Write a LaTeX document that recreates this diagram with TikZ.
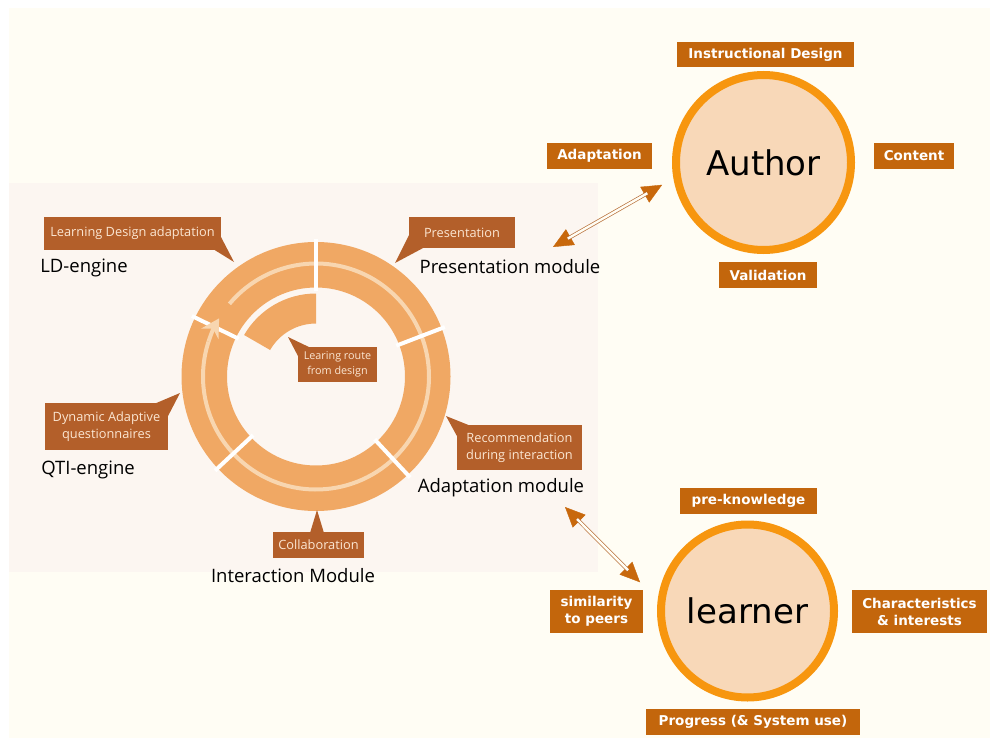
\documentclass[tikz,border=0pt]{standalone}
\usepackage{fontspec}
\setmainfont{DejaVu Sans}
\newfontfamily\handfont{Open Sans}
\usetikzlibrary{arrows.meta,calc}
\definecolor{bgcream}{HTML}{FFFDF4}
\definecolor{panelc}{HTML}{FCF6F1}
\definecolor{ringc}{HTML}{F0A864}
\definecolor{stripec}{HTML}{F8D6B0}
\definecolor{callc}{HTML}{B35F2A}
\definecolor{calltext}{HTML}{FBE6D2}
\definecolor{boxc}{HTML}{C3660C}
\definecolor{personfill}{HTML}{F8D8B8}
\definecolor{persondraw}{HTML}{F7960F}
\definecolor{headc}{HTML}{C8680C}
\definecolor{shaftc}{HTML}{B8703A}
\begin{document}
\begin{tikzpicture}[x=1pt,y=-1pt,
  lblbox/.style={fill=boxc, text=white, font=\bfseries\fontsize{13.5}{17}\selectfont, inner sep=0pt, align=center},
  callbox/.style={fill=callc, text=calltext, font=\handfont\fontsize{12.8}{16.5}\selectfont, inner sep=0pt, align=center},
  modlabel/.style={font=\handfont\fontsize{18.5}{22}\selectfont, text=black, inner sep=0pt},
  person/.style={circle, draw=persondraw, fill=personfill, line width=8pt, font=\fontsize{34}{40}\selectfont, text=black},
  tipline/.style={line width=0.4pt, draw=headc, fill=headc, {Triangle[length=20pt,width=18pt]}-{Triangle[length=20pt,width=18pt]}},
  shaft/.style={draw=shaftc, line width=0.7pt, double=bgcream, double distance=2.4pt},
  gapline/.style={white, line width=4pt}
]
\useasboundingbox (0,0) rectangle (990,738);
\fill[white] (0,0) rectangle (990,738);
\fill[bgcream] (9,8) rectangle (990,738);
\fill[panelc] (9,183) rectangle (598,572);

% ring
\coordinate (c) at (316,376.5);
\fill[ringc, even odd rule] (c) circle[radius=134.5pt] (c) circle[radius=89pt];
\draw[stripec, line width=4pt] ($(c)+(140:113pt)$) arc[start angle=140, end angle=-198, radius=113pt];
\foreach \a in {90,21,-47,-137,154}
  \draw[gapline] ($(c)+(\a:86pt)$) -- ($(c)+(\a:138pt)$);
\draw[stripec, line width=4pt, -{Stealth[length=18pt,width=20pt,inset=6pt]}] ($(c)+(-198:113pt)$) arc[start angle=-198, end angle=-211, radius=113pt];
\fill[ringc] ($(c)+(90:83pt)$) arc[start angle=90, end angle=150, radius=83pt] -- ($(c)+(150:53pt)$) arc[start angle=150, end angle=90, radius=53pt] -- cycle;

% callouts
\fill[callc] (213,249) -- (234,262) -- (221,237) -- cycle;
\node[callbox, minimum width=177pt, minimum height=33pt] (cLD) at (132.5,233) {Learning Design adaptation};
\fill[callc] (409,235) -- (395,263) -- (425,247) -- cycle;
\node[callbox, minimum width=106pt, minimum height=31pt] (cPres) at (462,232.5) {Presentation};
\fill[callc] (458,438) -- (446,416) -- (471,426) -- cycle;
\node[callbox, minimum width=125pt, minimum height=45pt] (cRec) at (519.5,447.5) {Recommendation\\during interaction};
\fill[callc] (154,404) -- (180,393) -- (167,418) -- cycle;
\node[callbox, minimum width=123pt, minimum height=47pt] (cQTI) at (106.5,426.5) {Dynamic Adaptive\\questionnaires};
\fill[callc] (310,533) -- (317,510) -- (324,533) -- cycle;
\node[callbox, minimum width=91pt, minimum height=26pt] (cCol) at (318.5,545) {Collaboration};
\fill[callc] (299,358) -- (288,337) -- (311,348) -- cycle;
\node[callbox, minimum width=79pt, minimum height=35pt, font=\handfont\fontsize{10.8}{14.5}\selectfont] (cRoute) at (337.5,364.5) {Learing route\\from design};

% module labels
\node[modlabel] (ld) at (84,268) {LD-engine};
\node[modlabel] (pm) at (510,267) {Presentation module};
\node[modlabel] (am) at (501,488) {Adaptation module};
\node[modlabel] (qti) at (88,470) {QTI-engine};
\node[modlabel] (im) at (293,576) {Interaction Module};

% persons
\node[person, minimum size=175pt] (author) at (763.5,162.5) {Author};
\node[person, minimum size=173pt] (learner) at (747.5,611) {learner};

\node[lblbox, minimum width=177pt, minimum height=25pt] (id) at (765.5,54.5) {Instructional Design};
\node[lblbox, minimum width=105pt, minimum height=26pt] (ad) at (599.5,156) {Adaptation};
\node[lblbox, minimum width=80pt, minimum height=26pt] (co) at (914,156) {Content};
\node[lblbox, minimum width=98pt, minimum height=26pt] (va) at (768,275) {Validation};
\node[lblbox, minimum width=137pt, minimum height=26pt] (pk) at (748.5,501) {pre-knowledge};
\node[lblbox, minimum width=93pt, minimum height=43pt] (sp) at (596.5,611.5) {similarity\\to peers};
\node[lblbox, minimum width=135pt, minimum height=43pt] (ci) at (919.5,611.5) {Characteristics\\\& interests};
\node[lblbox, minimum width=214pt, minimum height=26pt] (pr) at (753,722) {Progress (\& System use)};

% arrows
\coordinate (a1) at (553,247);
\coordinate (a2) at (565,507);
\draw[tipline, shorten >=13pt] (a1) -- (author.190);
\draw[shaft, shorten <=17pt, shorten >=30pt] (a1) -- (author.190);
\draw[tipline, shorten >=25pt] (a2) -- (learner.173);
\draw[shaft, shorten <=17pt, shorten >=42pt] (a2) -- (learner.173);
\end{tikzpicture}
\end{document}
